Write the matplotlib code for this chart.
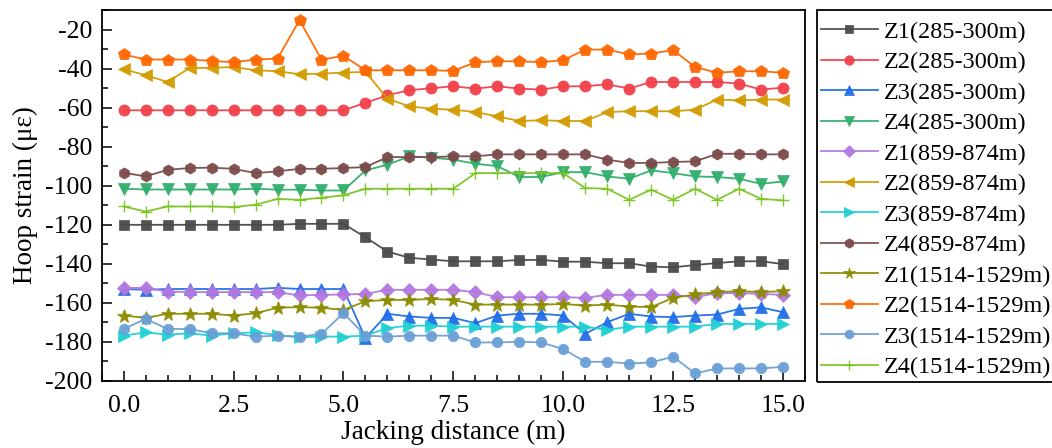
import numpy as np
import matplotlib
matplotlib.use("Agg")
from matplotlib import pyplot as plt
from matplotlib.ticker import MultipleLocator
from matplotlib.patches import Rectangle

plt.rcParams['font.family'] = ['Liberation Serif', 'DejaVu Serif']
plt.rcParams['mathtext.fontset'] = 'stix'

dist = np.arange(0, 15.01, 0.5)

labels = ['Z1(285-300m)', 'Z2(285-300m)', 'Z3(285-300m)', 'Z4(285-300m)',
          'Z1(859-874m)', 'Z2(859-874m)', 'Z3(859-874m)', 'Z4(859-874m)',
          'Z1(1514-1529m)', 'Z2(1514-1529m)', 'Z3(1514-1529m)', 'Z4(1514-1529m)']

z1_285 = [-120.1, -120.1, -120.1, -120.1, -120.1, -120.1, -120.1, -120.1, -119.6, -119.6,
          -119.6, -126.5, -133.8, -137.0, -137.9, -138.8, -138.8, -138.8, -138.1, -138.1,
          -139.0, -139.0, -139.8, -139.8, -141.5, -141.9, -140.7, -139.7, -138.8, -138.8, -140.2]
z2_285 = [-61.4, -61.4, -61.4, -61.4, -61.4, -61.4, -61.4, -61.4, -61.4, -61.4,
          -61.4, -57.6, -53.7, -51.1, -50.1, -49.1, -50.3, -49.1, -50.3, -50.8,
          -49.1, -49.1, -48.1, -50.3, -46.9, -46.9, -46.9, -46.9, -47.7, -50.8, -49.8]
z3_285 = [-153.0, -153.4, -153.0, -153.0, -153.0, -153.0, -153.0, -152.4, -153.0, -153.0,
          -153.0, -178.2, -165.7, -167.1, -167.8, -167.8, -170.5, -166.6, -165.7, -165.7,
          -166.6, -176.0, -170.0, -165.7, -167.1, -167.4, -166.6, -166.1, -163.2, -162.4, -164.9]
z4_285 = [-101.6, -102.0, -102.0, -102.0, -102.0, -102.0, -101.6, -102.1, -102.1, -102.5,
          -102.5, -92.2, -89.3, -85.0, -85.7, -86.7, -88.8, -90.0, -95.6, -95.6,
          -93.1, -93.1, -95.3, -96.5, -92.2, -93.6, -95.3, -95.6, -96.5, -99.1, -97.9]
z1_859 = [-152.4, -152.4, -154.3, -154.6, -154.6, -154.6, -154.6, -154.6, -156.3, -156.0,
          -155.8, -155.5, -153.4, -153.4, -153.4, -153.4, -154.6, -157.2, -157.2, -157.2,
          -157.2, -157.5, -156.0, -156.0, -156.0, -156.0, -157.2, -155.1, -155.1, -155.5, -156.0]
z2_859 = [-40.4, -43.4, -46.9, -39.7, -39.7, -39.2, -40.9, -41.4, -42.9, -42.6,
          -42.1, -41.7, -55.4, -59.4, -60.6, -61.1, -62.3, -64.5, -66.9, -66.5,
          -66.9, -66.9, -62.3, -61.9, -61.9, -61.9, -61.1, -55.9, -56.3, -55.9, -55.9]
z3_859 = [-176.9, -175.2, -176.4, -175.7, -176.9, -175.7, -175.2, -176.6, -177.8, -177.4,
          -177.4, -176.9, -173.0, -171.8, -171.8, -172.3, -172.3, -172.3, -172.3, -172.3,
          -172.3, -172.3, -174.0, -172.3, -172.3, -172.3, -172.3, -170.9, -170.9, -170.9, -170.9]
z4_859 = [-93.4, -95.3, -91.9, -91.0, -90.8, -91.4, -93.6, -92.7, -91.4, -91.4,
          -91.0, -90.5, -85.4, -85.4, -85.4, -85.0, -85.0, -84.0, -84.0, -84.0,
          -84.0, -84.0, -86.7, -88.4, -88.4, -87.9, -87.6, -83.7, -83.7, -84.0, -84.0]
z1_1514 = [-166.6, -167.8, -165.7, -165.7, -165.7, -166.6, -165.4, -162.6, -162.3, -162.6,
           -163.7, -159.3, -158.6, -158.6, -158.1, -158.6, -161.0, -161.0, -161.0, -161.0,
           -160.7, -161.5, -161.0, -162.0, -162.3, -157.5, -155.8, -154.6, -154.1, -154.6, -154.1]
z2_1514 = [-32.8, -35.4, -35.4, -35.4, -36.1, -36.8, -35.4, -34.9, -15.2, -35.4,
           -33.5, -40.9, -40.9, -40.9, -40.9, -41.2, -36.8, -36.3, -36.3, -36.8,
           -35.7, -30.3, -30.3, -32.8, -32.3, -30.6, -39.2, -42.2, -41.4, -41.4, -42.2]
z3_1514 = [-173.5, -168.3, -173.5, -173.5, -175.7, -175.7, -177.4, -176.9, -177.4, -176.0,
           -165.4, -176.9, -177.4, -176.9, -176.9, -176.9, -180.4, -180.4, -180.0, -180.4,
           -183.8, -190.3, -190.3, -191.2, -190.6, -187.7, -196.3, -193.7, -193.7, -193.7, -192.9]
z4_1514 = [-110.7, -113.3, -110.7, -110.7, -110.7, -111.0, -109.8, -106.8, -107.3, -106.2,
           -105.0, -101.6, -101.6, -101.6, -101.6, -101.6, -93.6, -93.6, -93.6, -93.6,
           -93.6, -101.3, -101.6, -107.3, -102.1, -107.3, -101.6, -107.3, -101.6, -106.8, -107.6]

series = [z1_285, z2_285, z3_285, z4_285, z1_859, z2_859, z3_859, z4_859,
          z1_1514, z2_1514, z3_1514, z4_1514]
colors = ['#4a4a4a', '#f2404a', '#1f6de8', '#2fae6b', '#b278e0', '#d39b00',
          '#1ed0d4', '#7b4a4a', '#8c8c00', '#ff6600', '#6a9fd6', '#7cc424']
markers = ['s', 'o', '^', 'v', 'D', '<', '>', 'h', '*', 'p', 'o', '+']
msizes = [7, 8, 8, 8, 7, 9, 9, 8, 10, 9, 7.5, 9]

fig = plt.figure(figsize=(10.52, 4.48), dpi=100)
ax = fig.add_axes([0.0967, 0.1502, 0.6685, 0.8275])

for y, c, m, ms, lab in zip(series, colors, markers, msizes, labels):
    ax.plot(dist, y, color=c, marker=m, markersize=ms, lw=1.3, label=lab,
            markeredgewidth=1.0 if m == '+' else 0.5, alpha=0.95)

ax.set_xlim(-0.5, 15.5)
ax.set_ylim(-200, -10)
ax.xaxis.set_minor_locator(MultipleLocator(0.5))
ax.yaxis.set_minor_locator(MultipleLocator(10))
ax.tick_params(which='both', direction='in', top=False, right=False, labelsize=18.5, width=1.1)
ax.tick_params(which='major', length=7)
ax.tick_params(which='minor', length=4)
ax.tick_params(axis='x', which='major', pad=10)
ax.tick_params(axis='y', which='major', pad=7)
ax.set_xticks(np.arange(0, 15.01, 2.5))
ax.set_xticklabels(['0.0', '2.5', '5.0', '7.5', '10.0', '12.5', '15.0'])
ax.set_yticks(np.arange(-200, -19, 20))
ax.set_yticklabels(['-200', '-180', '-160', '-140', '-120', '-100', '-80', '-60', '-40', '-20'])
for sp in ax.spines.values():
    sp.set_linewidth(1.3)

ax.set_xlabel('Jacking distance (m)', fontsize=19.5, labelpad=2)
ax.set_ylabel('Hoop strain (με)', fontsize=19.5, labelpad=5)

# legend box drawn separately so the rows can sit lower than the frame top
fig.add_artist(Rectangle((817 / 1052, 1 - 382 / 448), 0.3, (382 - 10) / 448,
                         transform=fig.transFigure, fill=False, edgecolor='black', lw=1.3))
leg = fig.legend(loc='upper left', bbox_to_anchor=(817 / 1052, 1 - 17 / 448),
                 bbox_transform=fig.transFigure, fontsize=17.5, frameon=False,
                 borderaxespad=0, borderpad=0.15,
                 handlelength=2.35, handletextpad=0.25, labelspacing=0.35, markerscale=0.85)

fig.savefig('out.png', dpi=100)
